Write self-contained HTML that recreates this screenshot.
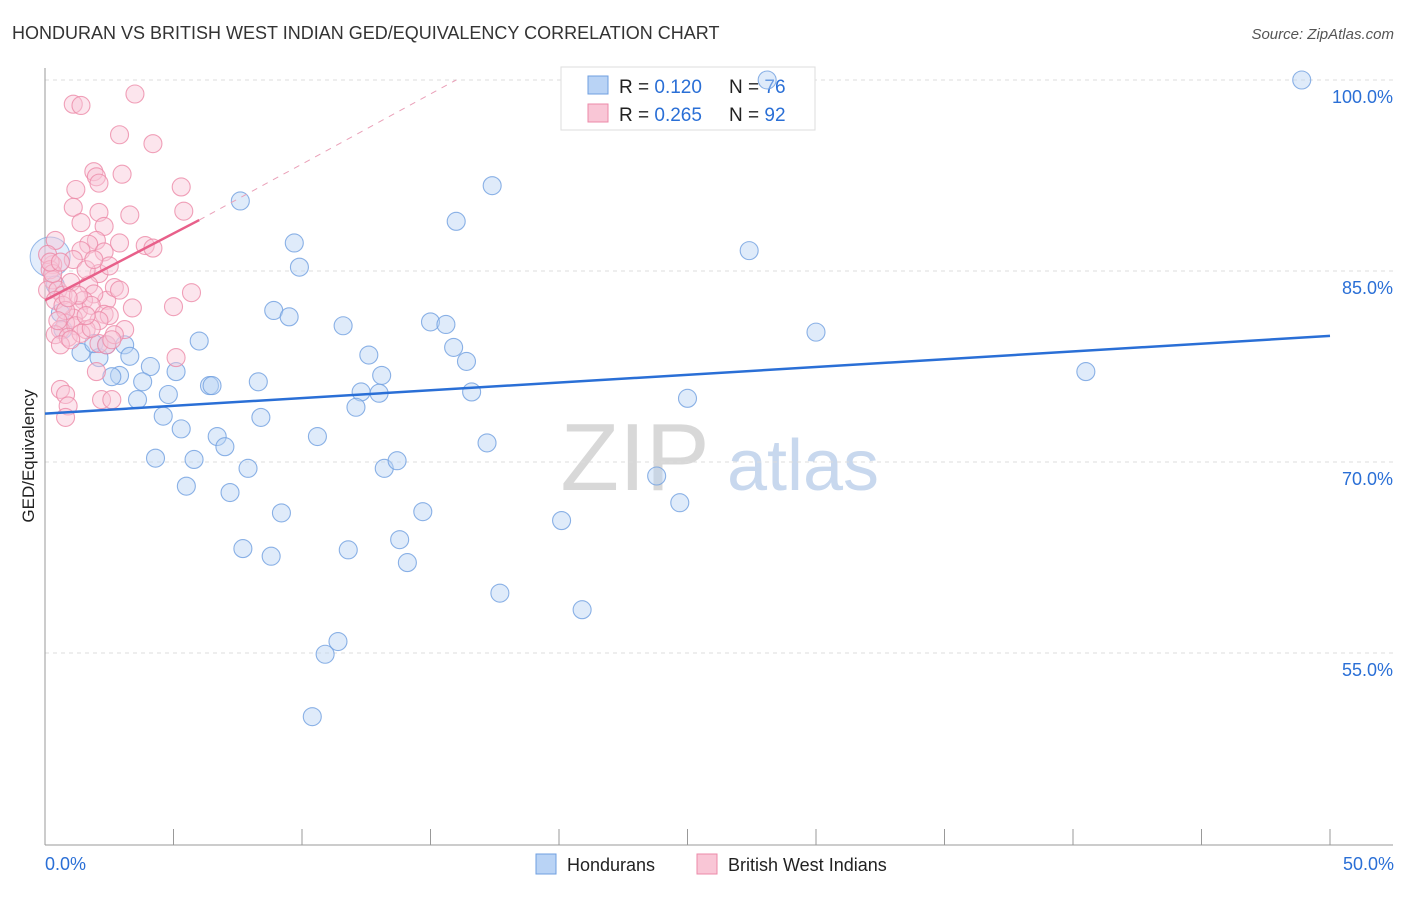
<!DOCTYPE html>
<html><head><meta charset="utf-8"><style>
body{margin:0;background:#fff;font-family:"Liberation Sans",sans-serif;}
svg text{font-family:"Liberation Sans",sans-serif;}
</style></head><body>
<svg id="chart" width="1406" height="892" xmlns="http://www.w3.org/2000/svg">
<text x="12" y="39" font-size="18" fill="#333">HONDURAN VS BRITISH WEST INDIAN GED/EQUIVALENCY CORRELATION CHART</text>
<text x="1394" y="39" font-size="15" fill="#555" font-style="italic" text-anchor="end">Source: ZipAtlas.com</text>
<text x="635" y="490" font-size="96" fill="#d8d8d8" font-family="Liberation Serif" text-anchor="middle">ZIP</text>
<text x="803" y="490" font-size="72" fill="#c8d8ee" text-anchor="middle">atlas</text>
<text transform="translate(34,456) rotate(-90)" font-size="17" fill="#222" text-anchor="middle">GED/Equivalency</text>
<g id="grid"></g><g id="axes"></g>
<g>
<rect x="561" y="67" width="254" height="63" fill="#fff" stroke="#ddd"/>
<rect x="588" y="76" width="20" height="18" fill="#b9d3f5" stroke="#6f9fe0"/>
<rect x="588" y="104" width="20" height="18" fill="#f9c6d6" stroke="#ec8aa8"/>
<text x="619" y="93" font-size="19" fill="#222">R = <tspan fill="#2a6fd6">0.120</tspan></text>
<text x="729" y="93" font-size="19" fill="#222">N = <tspan fill="#2a6fd6">76</tspan></text>
<text x="619" y="121" font-size="19" fill="#222">R = <tspan fill="#2a6fd6">0.265</tspan></text>
<text x="729" y="121" font-size="19" fill="#222">N = <tspan fill="#2a6fd6">92</tspan></text>
</g>
<g id="pts"></g><g id="lines"></g>
<g>
<rect x="536" y="854" width="20" height="20" fill="#b9d3f5" stroke="#6f9fe0"/>
<text x="567" y="871" font-size="18" fill="#222">Hondurans</text>
<rect x="697" y="854" width="20" height="20" fill="#f9c6d6" stroke="#ec8aa8"/>
<text x="728" y="871" font-size="18" fill="#222">British West Indians</text>
</g>
<text x="45" y="870" font-size="18" fill="#2a6fd6">0.0%</text>
<text x="1394" y="870" font-size="18" fill="#2a6fd6" text-anchor="end">50.0%</text>
</svg>
<script>
const yTicks=[100,85,70,55];
const yTickLabels=["100.0%","85.0%","70.0%","55.0%"];
const xTicks=[0,5,10,15,20,25,30,35,40,45,50];
const hondX=[48.9,28.1,17.4,16.0,7.6,9.7,9.9,27.4,30.0,40.5,8.9,9.5,11.6,15.0,15.6,15.9,16.4,12.6,13.1,12.3,13.0,12.1,16.6,25.0,6.0,3.1,1.4,2.1,3.3,4.1,5.1,3.8,2.9,2.6,4.8,3.6,4.6,6.4,6.5,8.3,8.4,5.3,6.7,7.0,10.6,17.2,4.3,5.8,7.9,13.2,13.7,5.5,7.2,23.8,24.7,9.2,14.7,20.1,7.7,8.8,11.8,13.8,14.1,17.7,20.9,11.4,10.9,10.4,0.6,1.9,2.4,0.7,0.4];
const hondY=[100.0,100.0,91.7,88.9,90.5,87.2,85.3,86.6,80.2,77.1,81.9,81.4,80.7,81.0,80.8,79.0,77.9,78.4,76.8,75.5,75.4,74.3,75.5,75.0,79.5,79.2,78.6,78.2,78.3,77.5,77.1,76.3,76.8,76.7,75.3,74.9,73.6,76.0,76.0,76.3,73.5,72.6,72.0,71.2,72.0,71.5,70.3,70.2,69.5,69.5,70.1,68.1,67.6,68.9,66.8,66.0,66.1,65.4,63.2,62.6,63.1,63.9,62.1,59.7,58.4,55.9,54.9,50.0,81.7,79.3,79.2,80.4,83.9];
const hondBig=[0.2,86.1];
const bwiX=[3.5,1.1,1.4,2.9,4.2,1.9,3.0,2.0,2.1,5.3,1.2,1.1,2.1,3.3,5.4,2.3,1.4,2.0,1.7,0.4,3.9,4.2,1.4,0.3,2.1,5.7,2.4,5.0,3.4,0.1,0.2,0.3,0.1,0.5,0.7,1.0,1.7,1.9,2.7,2.9,1.5,1.3,1.1,0.8,0.6,0.4,1.8,2.3,2.5,2.1,1.2,1.6,0.9,0.6,2.1,2.4,3.1,2.7,5.1,2.0,0.6,0.8,2.2,2.6,0.9,0.8,0.3,0.2,0.4,1.4,1.8,1.0,0.7,1.6,2.6,0.8,1.3,0.5,0.9,1.1,2.3,2.5,1.6,0.6,1.9,2.9];
const bwiY=[98.9,98.1,98.0,95.7,95.0,92.8,92.6,92.4,91.9,91.6,91.4,90.0,89.6,89.4,89.7,88.5,88.8,87.4,87.1,87.4,87.0,86.8,86.6,85.5,84.8,83.3,82.7,82.2,82.1,86.3,85.1,84.3,83.5,83.5,83.1,84.1,83.9,83.2,83.7,83.5,82.7,81.9,81.3,80.9,80.4,80.0,82.3,81.6,81.5,81.1,80.7,80.4,79.8,79.2,79.3,79.2,80.4,80.0,78.2,77.1,75.7,75.3,74.9,74.9,74.4,73.5,84.8,85.7,82.7,80.1,80.5,79.6,82.3,81.5,79.6,81.9,83.1,81.1,82.9,85.9,86.5,85.4,85.1,85.7,85.9,87.2];
const hondTrend=[[0,73.8],[50,79.9]];
const bwiTrend=[[0,82.7],[6.0,89.0]];
const bwiTrendExt=[[6.0,89.0],[16.0,100]];
const NS="http://www.w3.org/2000/svg";
const sx=v=>45+v*25.7, sy=v=>80+(100-v)*12.733;
function mk(tag,attrs,parent){const e=document.createElementNS(NS,tag);for(const k in attrs)e.setAttribute(k,attrs[k]);document.getElementById(parent).appendChild(e);return e;}
yTicks.forEach((t,i)=>{
 const l=mk('line',{x1:45,x2:1393,y1:sy(t),y2:sy(t),stroke:'#ddd','stroke-dasharray':'4,4'},'grid');
 
 
 const tx=mk('text',{x:1393,y:sy(t)+23,'font-size':18,fill:'#2a6fd6','text-anchor':'end'},'grid');
 tx.textContent=yTickLabels[i];
 
 
});
let a=mk('line',{x1:45,x2:45,y1:68,y2:845,stroke:'#999'},'axes');


a=mk('line',{x1:45,x2:1393,y1:845,y2:845,stroke:'#999'},'axes');


xTicks.forEach(t=>{const l=mk('line',{x1:sx(t),x2:sx(t),y1:829,y2:845,stroke:'#999'},'axes');
 
 });
function pts(X,Y,fill,stroke,name){X.forEach((x,i)=>{const c=mk('circle',{cx:sx(x),cy:sy(Y[i]),r:9,fill:fill,'fill-opacity':0.45,stroke:stroke,'stroke-opacity':0.8,'stroke-width':1.1},'pts');
 
 });}
const big=mk('circle',{cx:sx(hondBig[0]),cy:sy(hondBig[1]),r:20,fill:'#b9d3f5','fill-opacity':0.4,stroke:'#6f9fe0','stroke-opacity':0.7},'pts');


pts(hondX,hondY,'#b9d3f5','#6f9fe0','honduran-point');
pts(bwiX,bwiY,'#f9c6d6','#ec8aa8','bwi-point');
function ln(p,st,w,dash,name){const l=mk('line',{x1:sx(p[0][0]),y1:sy(p[0][1]),x2:sx(p[1][0]),y2:sy(p[1][1]),stroke:st,'stroke-width':w},'lines');if(dash)l.setAttribute('stroke-dasharray',dash);
 
 }
ln(hondTrend,'#2a6fd6',2.5,null,'honduran-trendline');
ln(bwiTrend,'#e8608a',2.5,null,'bwi-trendline');
ln(bwiTrendExt,'#eaa0b8',1,'6,6','bwi-trendline-extension');
</script>
</body></html>
